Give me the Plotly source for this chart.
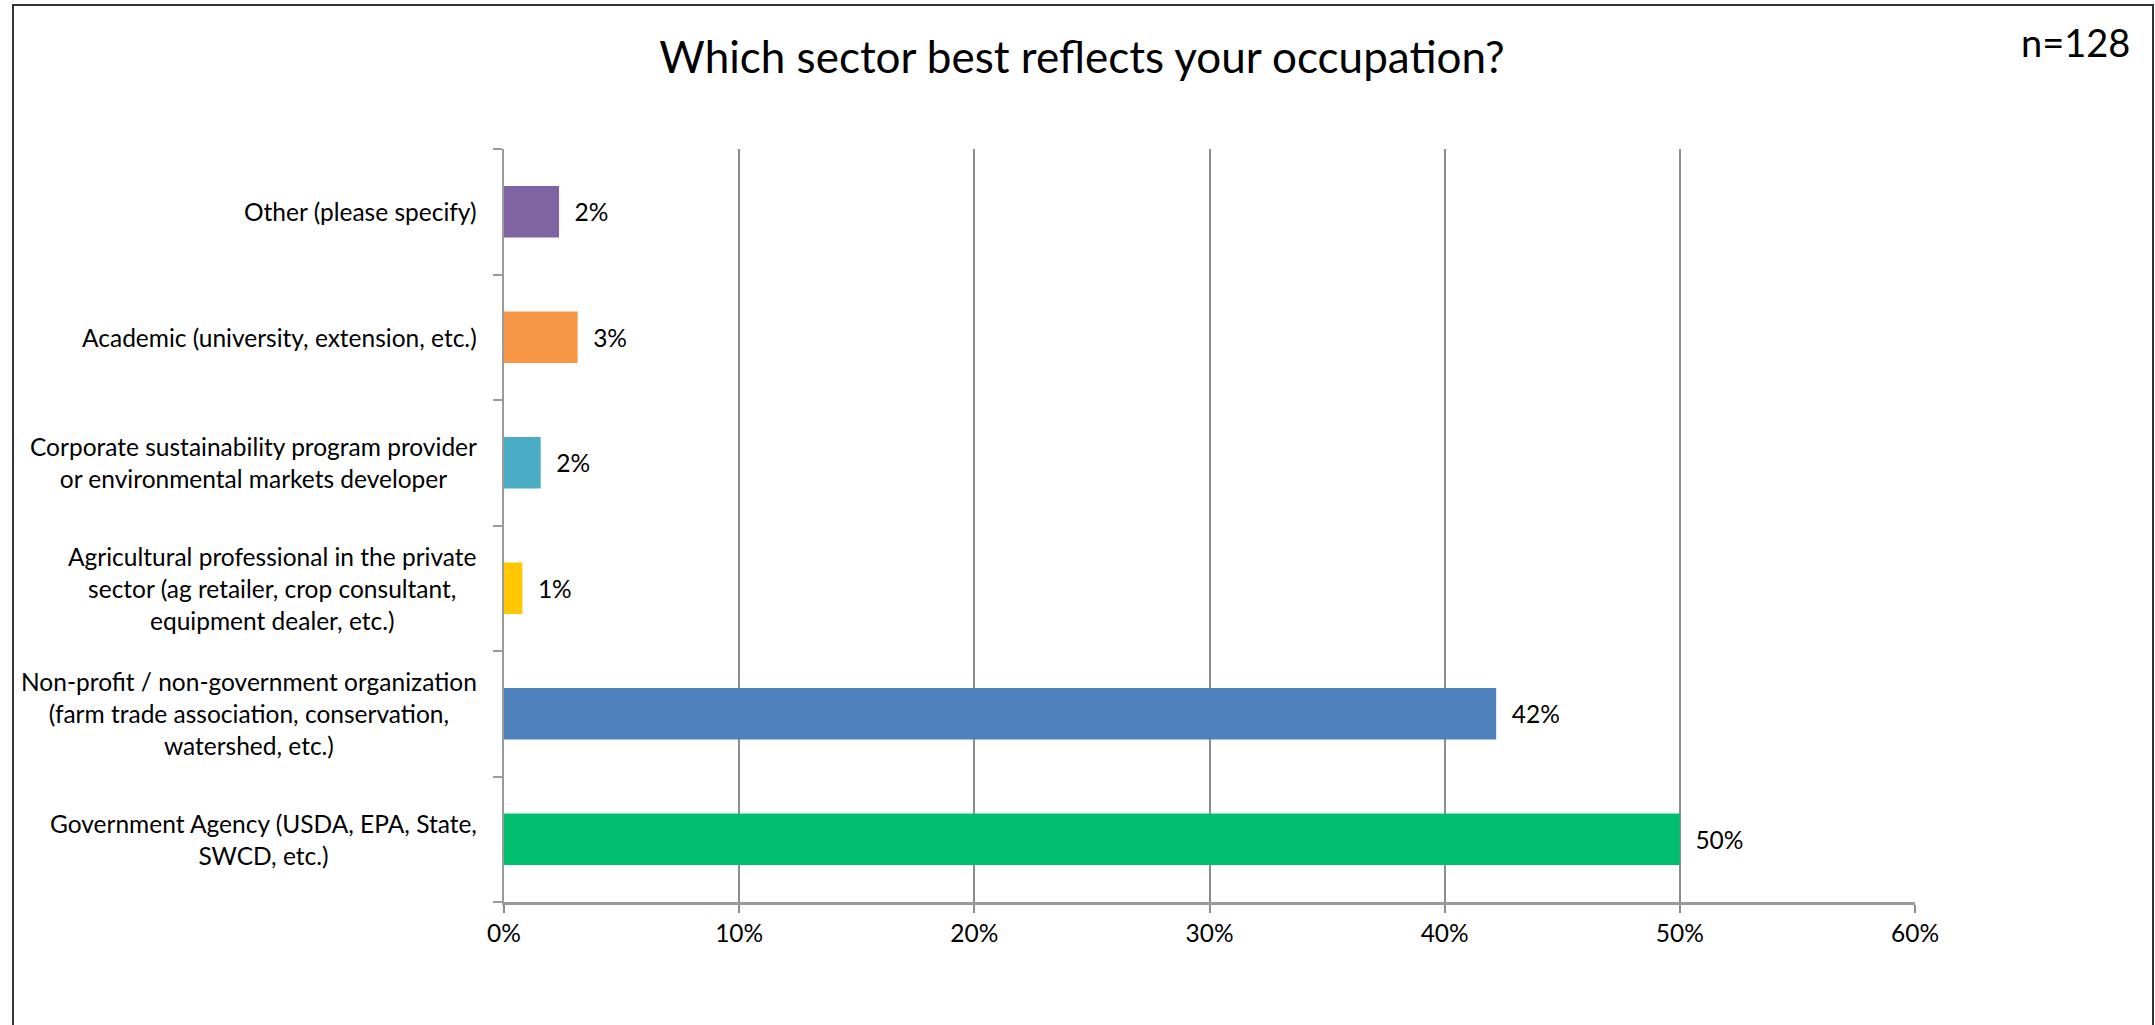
import plotly.graph_objects as go

# Survey responses, listed bottom-to-top as they appear on the category axis
categories = [
    "Government Agency (USDA, EPA, State,<br>SWCD, etc.)",
    "Non-profit / non-government organization<br>(farm trade association, conservation,<br>watershed, etc.)",
    "Agricultural professional in the private<br>sector (ag retailer, crop consultant,<br>equipment dealer, etc.)",
    "Corporate sustainability program provider<br>or environmental markets developer",
    "Academic (university, extension, etc.)",
    "Other (please specify)",
]
shares = [0.5000, 0.4219, 0.0078, 0.0156, 0.0313, 0.0234]
bar_colors = ["#00BF6F", "#4F81BD", "#FFC800", "#4BACC6", "#F79646", "#8064A2"]

x_ticks = [0, 0.1, 0.2, 0.3, 0.4, 0.5, 0.6]
x_tick_labels = ["0%", "10%", "20%", "30%", "40%", "50%", "60%"]

title_text = "Which sector best reflects your occupation?"
sample_note = "n=128"

FONT = "Lato"
W, H = 2155, 1025
M_L, M_R, M_T, M_B = 504, 240, 149, 123
plot_w = W - M_L - M_R
plot_h = H - M_T - M_B


def px_to_paper_x(px):
    return (px - M_L) / plot_w


def px_to_paper_y(py):
    return (H - M_B - py) / plot_h


fig = go.Figure(
    go.Bar(
        x=shares,
        y=categories,
        orientation="h",
        marker=dict(color=bar_colors, line=dict(width=0)),
        texttemplate="\u00a0\u00a0%{x:.0%}",
        textposition="outside",
        textfont=dict(family=FONT, size=24.5, color="#000000"),
        cliponaxis=False,
        hoverinfo="skip",
    )
)

# Category labels, centred line by line to the left of the axis
annotations = [
    dict(
        x=0, xref="paper", y=cat, yref="y",
        text=cat, showarrow=False,
        xanchor="right", yanchor="middle", align="center",
        xshift=-25,
        font=dict(family=FONT, size=24.5, color="#000000"),
    )
    for cat in categories
]

annotations.append(
    dict(
        x=px_to_paper_x(2132), xref="paper", y=px_to_paper_y(42), yref="paper",
        text=sample_note, showarrow=False, xanchor="right", yanchor="middle",
        font=dict(family=FONT, size=38, color="#000000"),
    )
)

fig.update_layout(
    width=W,
    height=H,
    margin=dict(l=M_L, r=M_R, t=M_T, b=M_B, pad=0),
    paper_bgcolor="#FFFFFF",
    plot_bgcolor="#FFFFFF",
    showlegend=False,
    bargap=0.59,
    title=dict(
        text=title_text,
        x=1082 / W, xref="container", xanchor="center",
        y=1 - 58 / H, yref="container", yanchor="middle",
        font=dict(family=FONT, size=44, color="#000000"),
    ),
    xaxis=dict(
        range=[0, 0.6],
        tickvals=x_ticks,
        ticktext=x_tick_labels,
        showgrid=True,
        gridcolor="#8C8C8C",
        gridwidth=1.5,
        zeroline=False,
        showline=True,
        linecolor="#9A9A9A",
        linewidth=3,
        ticks="outside",
        ticklen=8,
        tickwidth=1.5,
        tickcolor="#8C8C8C",
        tickfont=dict(family=FONT, size=24.5, color="#000000"),
        fixedrange=True,
    ),
    yaxis=dict(
        type="category",
        categoryorder="array",
        categoryarray=categories,
        showticklabels=False,
        showgrid=False,
        showline=True,
        linecolor="#9A9A9A",
        linewidth=2,
        ticks="outside",
        tickson="boundaries",
        ticklen=9,
        tickwidth=2,
        tickcolor="#9A9A9A",
        fixedrange=True,
    ),
    annotations=annotations,
    shapes=[
        # chart frame; its lower edge runs just past the bottom of the page
        dict(
            type="rect", xref="paper", yref="paper",
            x0=px_to_paper_x(13), x1=px_to_paper_x(2153),
            y0=px_to_paper_y(1032), y1=px_to_paper_y(5),
            line=dict(color="#333333", width=2),
            fillcolor="rgba(0,0,0,0)",
            layer="below",
        )
    ],
)

fig.write_html("out.html", config={"displayModeBar": False})
